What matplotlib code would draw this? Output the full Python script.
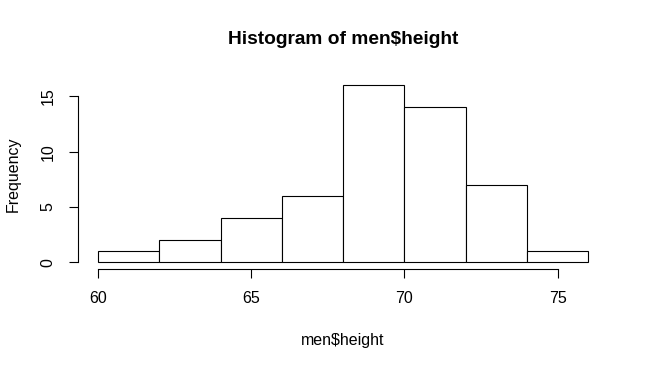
import matplotlib
matplotlib.use("Agg")
from matplotlib import pyplot as plt

# histogram of men$height: bin edges and counts per bin
bin_edges = [60, 62, 64, 66, 68, 70, 72, 74, 76]
counts = [1, 2, 4, 6, 16, 14, 7, 1]
xticks = [60, 65, 70, 75]
yticks = [0, 5, 10, 15]

plt.rcParams["font.family"] = ["Liberation Sans", "DejaVu Sans"]
fs = 11.5

W, H = 648, 368
fig = plt.figure(figsize=(W / 100, H / 100), dpi=100)
# plot region in pixels: x 78..608, y 78..269
ax = fig.add_axes([78.3 / W, 1 - 269.4 / H, (608 - 78.3) / W, (269.4 - 78.3) / H])

lefts = bin_edges[:-1]
widths = [b - a for a, b in zip(bin_edges[:-1], bin_edges[1:])]
ax.bar(lefts, counts, width=widths, align="edge",
       color="white", edgecolor="black", linewidth=0.8)

# R-style 4% padding
xr = bin_edges[-1] - bin_edges[0]
ax.set_xlim(bin_edges[0] - 0.04 * xr, bin_edges[-1] + 0.04 * xr)
yr = max(counts)
ax.set_ylim(-0.04 * yr, yr * 1.04)

for s in ["top", "right"]:
    ax.spines[s].set_visible(False)
ax.spines["left"].set_bounds(yticks[0], yticks[-1])
ax.spines["bottom"].set_bounds(xticks[0], xticks[-1])
for s in ["left", "bottom"]:
    ax.spines[s].set_linewidth(0.8)

ax.set_xticks(xticks)
ax.set_yticks(yticks)
ax.set_yticklabels([str(v) for v in yticks], rotation=90, va="center")
ax.tick_params(axis="both", length=6.5, width=0.8, labelsize=fs)
ax.tick_params(axis="x", pad=9)
ax.tick_params(axis="y", pad=10)

fig.text(343 / W, 1 - 40 / H, "Histogram of men$height",
         ha="center", va="center", fontsize=fs * 1.2, fontweight="bold")
fig.text(343 / W, 1 - 340 / H, "men$height",
         ha="center", va="center", fontsize=fs)
fig.text(13 / W, 1 - 174 / H, "Frequency",
         ha="center", va="center", fontsize=fs, rotation=90)

fig.savefig("out.png", dpi=100)
